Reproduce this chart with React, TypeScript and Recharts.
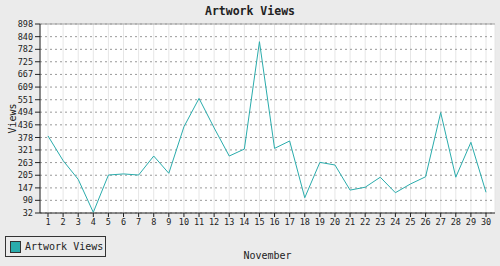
import React from 'react';
import { LineChart, Line, XAxis, YAxis, CartesianGrid, ReferenceLine } from 'recharts';

const days = ['1', '2', '3', '4', '5', '6', '7', '8', '9', '10', '11', '12', '13', '14', '15',
  '16', '17', '18', '19', '20', '21', '22', '23', '24', '25', '26', '27', '28', '29', '30'];
const views = [385, 272, 186, 35, 206, 211, 206, 293, 214, 427, 557, 422, 293, 325, 817,
  328, 362, 102, 264, 252, 137, 150, 196, 125, 165, 198, 492, 196, 356, 127];
const yTicks = [32, 90, 147, 205, 263, 321, 378, 436, 494, 551, 609, 667, 725, 782, 840, 898];

const TEAL = '#2aacac';
const MONO = '"DejaVu Sans Mono", "Liberation Mono", monospace';

const data = days.map((d, i) => ({ day: d, views: views[i] }));

const App: React.FC = () => {
  return (
    <div style={{ position: 'fixed', left: 0, top: 0, width: 500, height: 266, background: '#ebebeb', fontFamily: MONO }}>
      <div style={{ position: 'absolute', left: 0, top: 4, width: 500, textAlign: 'center', fontSize: 11.5, fontWeight: 'bold', color: '#222', lineHeight: '14px' }}>
        Artwork Views
      </div>
      <LineChart width={500} height={266} data={data} margin={{ top: 24, right: 5, bottom: 0, left: 0 }}>
        <CartesianGrid horizontal={false} stroke="#e6e6e6" fill="#ffffff" />
        <CartesianGrid vertical={false} stroke="#999999" strokeDasharray="2 3" />
        <XAxis
          dataKey="day"
          height={53}
          stroke="#222"
          tickSize={4}
          padding={{ left: 8, right: 9 }}
          interval={0}
          tick={{ fontSize: 8.5, fontFamily: MONO, fill: '#222' }}
          label={{ value: 'November', position: 'insideBottom', offset: 7, style: { fontSize: 10, fontFamily: MONO, fill: '#222' } }}
        />
        <XAxis xAxisId="top" dataKey="day" orientation="top" height={0} tick={false} tickLine={false} stroke="#a0a0a0" />
        <YAxis
          domain={[32, 898]}
          ticks={yTicks}
          width={40}
          stroke="#222"
          tickSize={5}
          interval={0}
          tick={{ fontSize: 8.5, fontFamily: MONO, fill: '#222' }}
          label={{ value: 'Views', angle: -90, position: 'insideLeft', offset: 12, style: { textAnchor: 'middle', fontSize: 10, fontFamily: MONO, fill: '#222' } }}
        />
        <YAxis yAxisId="right" orientation="right" domain={[32, 898]} width={0} tick={false} tickLine={false} stroke="#a0a0a0" />
        <ReferenceLine y={898} stroke="#a0a0a0" />
        <Line type="linear" dataKey="views" stroke={TEAL} strokeWidth={1} dot={false} isAnimationActive={false} />
      </LineChart>
      <div style={{ position: 'absolute', left: 5, top: 236, width: 99, height: 19, border: '1px solid #333', display: 'flex', alignItems: 'center' }}>
        <div style={{ width: 9, height: 10, marginLeft: 4, background: TEAL, border: '1px solid #333' }} />
        <span style={{ marginLeft: 4, fontSize: 10, color: '#222' }}>Artwork Views</span>
      </div>
    </div>
  );
};

export default App;
